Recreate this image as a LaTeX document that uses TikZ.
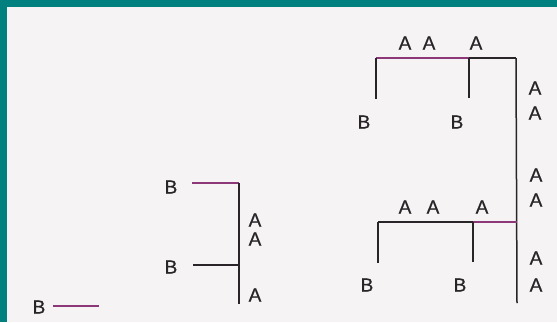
\documentclass[tikz,border=0pt]{standalone}
\usepackage{fontspec}
\setmainfont{Liberation Sans}
\newfontfamily\lblfont[FakeBold=0.6]{Liberation Sans}
\definecolor{teal0}{RGB}{0,128,126}
\definecolor{paper}{RGB}{245,243,243}
\definecolor{plum}{RGB}{140,55,120}
\definecolor{ink}{RGB}{40,36,40}
\tikzset{
  lbl/.style={inner sep=0pt, font=\lblfont\fontsize{19}{19}\selectfont, text=ink},
  pline/.style={draw=plum, line width=1.5pt},
  kline/.style={draw=ink, line width=1.5pt}
}
\begin{document}
\begin{tikzpicture}[x=1pt,y=-1pt]
\useasboundingbox (0,0) rectangle (557,322);
\fill[paper] (0,0) rectangle (557,322);
\fill[teal0] (0,0) rectangle (557,7);
\fill[teal0] (0,0) rectangle (7,322);

% top-right structure
\coordinate (t1) at (376,58);
\coordinate (t2) at (469,58);
\coordinate (t3) at (516,58);
\coordinate (t1b) at (376,99);
\coordinate (t2b) at (469,98);
\coordinate (rb) at (517,303);
\draw[pline] (t1) -- (t2);
\draw[kline] (t2) -- (t3);
\draw[kline] (t1) -- (t1b);
\draw[kline] (t2) -- (t2b);
\draw[kline] (t3) -- (rb);
\node[lbl] (ta1) at (405,43) {A};
\node[lbl] (ta2) at (429,43) {A};
\node[lbl] (ta3) at (476,43) {A};
\node[lbl] (tb1) at (364,122) {B};
\node[lbl] (tb2) at (457,122) {B};
\node[lbl] (ra1) at (535,88) {A};
\node[lbl] (ra2) at (535,113) {A};
\node[lbl] (ra3) at (536,175) {A};
\node[lbl] (ra4) at (536,200) {A};
\node[lbl] (ra5) at (536,258) {A};
\node[lbl] (ra6) at (536,285) {A};

% bottom-right structure
\coordinate (m1) at (378,222);
\coordinate (m2) at (473,222);
\coordinate (m3) at (517,222);
\coordinate (m1b) at (378,263);
\coordinate (m2b) at (473,262);
\draw[kline] (m1) -- (m2);
\draw[pline] (m2) -- (m3);
\draw[kline] (m1) -- (m1b);
\draw[kline] (m2) -- (m2b);
\node[lbl] (ma1) at (405,207) {A};
\node[lbl] (ma2) at (433,207) {A};
\node[lbl] (ma3) at (482,207) {A};
\node[lbl] (mb1) at (367,285) {B};
\node[lbl] (mb2) at (460,285) {B};

% bottom-left structure
\node[lbl] (lb1) at (171,187) {B};
\node[lbl] (lb2) at (171,267) {B};
\node[lbl] (lb3) at (39,307) {B};
\coordinate (l1) at (192,183);
\coordinate (l2) at (239,183);
\coordinate (l3) at (193,265);
\coordinate (l4) at (239,265);
\coordinate (l5) at (239,304);
\coordinate (l6) at (53,306);
\coordinate (l7) at (99,306);
\draw[pline] (l1) -- (l2);
\draw[kline] (l3) -- (l4);
\draw[kline] (l2) -- (l5);
\draw[pline] (l6) -- (l7);
\node[lbl] (la1) at (255,220) {A};
\node[lbl] (la2) at (255,239) {A};
\node[lbl] (la3) at (255,295) {A};
\end{tikzpicture}
\end{document}
